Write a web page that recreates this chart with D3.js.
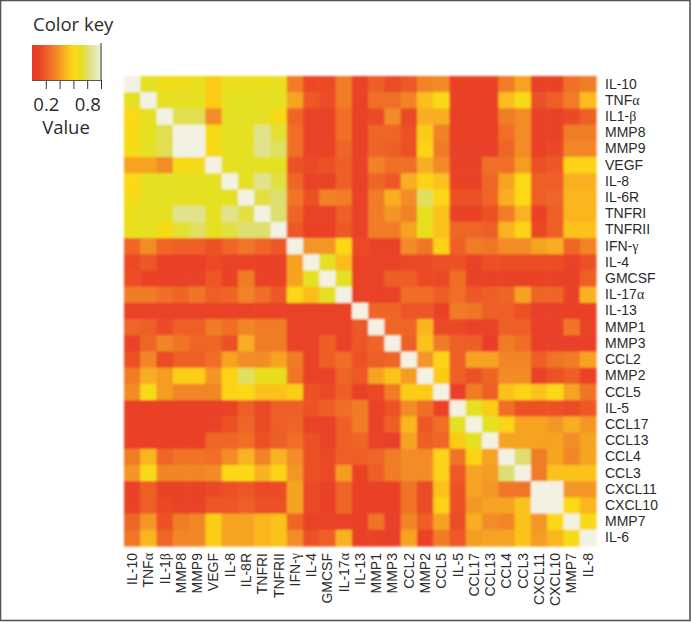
<!DOCTYPE html>
<html><head><meta charset="utf-8">
<script src="https://cdn.jsdelivr.net/npm/d3@7"></script>
<style>
html,body{margin:0;padding:0;background:#fff}
svg{display:block}
text{font-family:"Open Sans","Noto Sans",sans-serif;fill:#2b2b2b}
.domain{display:none}
</style></head><body><svg id="c" width="691" height="622"></svg>
<script>
const rowLabels=["IL-10","TNFα","IL1-β","MMP8","MMP9","VEGF","IL-8","IL-6R","TNFRI","TNFRII","IFN-γ","IL-4","GMCSF","IL-17α","IL-13","MMP1","MMP3","CCL2","MMP2","CCL5","IL-5","CCL17","CCL13","CCL4","CCL3","CXCL11","CXCL10","MMP7","IL-6"];
const colLabels=["IL-10","TNFα","IL-1β","MMP8","MMP9","VEGF","IL-8","IL-8R","TNFRI","TNFRII","IFN-γ","IL-4","GMCSF","IL-17α","IL-13","MMP1","MMP3","CCL2","MMP2","CCL5","IL-5","CCL17","CCL13","CCL4","CCL3","CXCL11","CXCL10","MMP7","IL-8"];
const colorStops=[0,.1,.2,.3,.4,.5,.6,.7,.8,.9,1];
const colorValues=["#e8392a","#ea4328","#ee5f28","#f17c27","#f59c24","#fbbd1e","#fcd815","#e5e020","#dedf70","#e4e6a8","#f3f2e2"];
const keyTicks=[.2,.4,.6,.8,1];
const keyLabels={0.2:"0.2",0.8:"0.8"};
const v00=[1,.7,.65,.65,.68,.55,.68,.68,.68,.68,.3,.12,.12,.3,.1,.2,.13,.18,.32,.35,.08,.08,.08,.3,.42,.1,.1,.25,.3];
const v01=[.7,1,.7,.7,.7,.55,.7,.7,.7,.7,.42,.18,.13,.3,.1,.25,.25,.32,.5,.62,.08,.08,.08,.5,.62,.15,.2,.3,.5];
const v02=[.6,.7,1,.76,.76,.35,.7,.7,.7,.62,.22,.1,.1,.25,.1,.13,.35,.12,.45,.45,.08,.08,.08,.3,.35,.1,.1,.12,.2];
const v03=[.62,.7,.76,1,1,.62,.7,.7,.85,.72,.25,.1,.1,.25,.1,.22,.22,.15,.55,.32,.08,.08,.08,.25,.35,.1,.1,.3,.3];
const v04=[.62,.7,.76,1,1,.62,.7,.7,.85,.78,.25,.1,.1,.22,.1,.22,.2,.15,.58,.3,.07,.07,.07,.22,.35,.1,.12,.33,.33];
const v05=[.42,.42,.35,.62,.62,1,.7,.7,.7,.7,.15,.12,.15,.2,.1,.32,.25,.25,.45,.35,.1,.1,.25,.25,.4,.15,.18,.58,.58];
const v06=[.6,.7,.7,.7,.7,.7,1,.7,.85,.74,.22,.1,.1,.2,.1,.22,.18,.45,.58,.52,.1,.1,.22,.42,.6,.2,.2,.46,.46];
const v07=[.62,.7,.7,.7,.7,.7,.7,1,.74,.8,.28,.15,.32,.3,.1,.3,.45,.35,.78,.6,.15,.15,.22,.45,.6,.2,.22,.48,.48];
const v08=[.68,.7,.7,.85,.85,.7,.85,.74,1,.8,.22,.1,.1,.2,.1,.3,.38,.32,.7,.52,.1,.1,.15,.3,.47,.1,.2,.48,.48];
const v09=[.68,.7,.62,.72,.78,.7,.74,.8,.8,1,.18,.08,.08,.18,.1,.3,.3,.42,.68,.52,.22,.22,.2,.47,.58,.12,.2,.52,.52];
const v10=[.22,.35,.22,.2,.2,.15,.22,.28,.22,.18,1,.38,.38,.6,.12,.1,.1,.35,.28,.58,.2,.3,.28,.35,.35,.42,.45,.22,.32];
const v11=[.12,.17,.08,.08,.08,.12,.1,.1,.08,.08,.42,1,.7,.5,.1,.1,.1,.12,.12,.15,.15,.1,.15,.14,.14,.14,.14,.1,.15];
const v12=[.14,.1,.1,.1,.1,.17,.1,.3,.1,.1,.42,.7,1,.7,.1,.1,.2,.2,.12,.12,.25,.1,.1,.1,.1,.1,.1,.1,.2];
const v13=[.3,.3,.25,.22,.28,.2,.22,.32,.25,.18,.6,.5,.7,1,.1,.1,.1,.25,.25,.2,.25,.18,.2,.22,.42,.22,.22,.1,.47];
const v14=[.09,.09,.1,.1,.09,.09,.09,.1,.09,.09,.1,.1,.09,.09,1,.22,.22,.17,.17,.08,.3,.28,.2,.2,.15,.07,.07,.08,.08];
const v15=[.22,.2,.13,.2,.2,.3,.25,.33,.3,.3,.1,.1,.1,.1,.18,1,.22,.22,.48,.12,.12,.1,.1,.2,.2,.07,.08,.28,.1];
const v16=[.1,.22,.33,.28,.22,.22,.15,.45,.3,.3,.1,.1,.2,.1,.17,.22,1,.2,.52,.3,.2,.2,.05,.3,.25,.08,.07,.07,.07];
const v17=[.15,.33,.13,.2,.2,.25,.42,.35,.35,.42,.3,.1,.2,.25,.15,.2,.22,1,.38,.58,.2,.42,.42,.33,.33,.2,.27,.3,.42];
const v18=[.3,.45,.4,.56,.56,.38,.58,.78,.68,.68,.28,.1,.1,.22,.18,.42,.52,.4,1,.55,.2,.15,.22,.35,.35,.1,.15,.2,.1];
const v19=[.35,.62,.4,.33,.33,.33,.58,.6,.52,.52,.56,.15,.12,.2,.08,.12,.3,.56,.55,1,.08,.3,.2,.52,.58,.52,.6,.42,.28];
const v20=[.08,.08,.08,.08,.08,.08,.1,.2,.12,.2,.2,.15,.2,.25,.3,.1,.15,.35,.25,.1,1,.7,.56,.25,.15,.15,.15,.13,.18];
const v21=[.08,.08,.08,.08,.08,.1,.15,.22,.12,.2,.22,.1,.1,.2,.3,.1,.2,.48,.17,.25,.7,1,.7,.58,.42,.42,.38,.45,.38];
const v22=[.08,.08,.08,.08,.08,.22,.22,.25,.15,.2,.25,.15,.1,.2,.22,.1,.07,.42,.2,.22,.55,.7,1,.42,.42,.42,.42,.35,.42];
const v23=[.3,.48,.22,.27,.27,.25,.35,.47,.32,.47,.35,.15,.12,.2,.2,.22,.3,.35,.35,.58,.27,.58,.42,1,.8,.3,.42,.33,.42];
const v24=[.38,.62,.33,.33,.33,.35,.6,.6,.47,.58,.38,.15,.12,.4,.08,.2,.3,.35,.35,.58,.18,.42,.4,.8,1,.3,.52,.52,.52];
const v25=[.1,.2,.1,.1,.1,.12,.15,.17,.12,.13,.42,.12,.08,.22,.08,.08,.08,.27,.13,.52,.15,.42,.38,.28,.28,1,1,.38,.38];
const v26=[.1,.2,.12,.1,.1,.17,.17,.2,.15,.15,.42,.12,.08,.22,.08,.08,.08,.27,.13,.58,.15,.38,.42,.42,.52,1,1,.6,.48];
const v27=[.22,.38,.15,.3,.33,.56,.42,.42,.48,.52,.22,.1,.1,.1,.08,.27,.07,.33,.2,.42,.13,.45,.35,.33,.52,.38,.6,1,.62];
const v28=[.28,.48,.22,.33,.33,.56,.42,.42,.48,.52,.35,.15,.2,.47,.08,.1,.07,.42,.1,.3,.18,.4,.42,.42,.52,.4,.48,.62,1];
const matrix=[v00,v01,v02,v03,v04,v05,v06,v07,v08,v09,v10,v11,v12,v13,v14,v15,v16,v17,v18,v19,v20,v21,v22,v23,v24,v25,v26,v27,v28];

const svg=d3.select("#c");
const defs=svg.append("defs");
defs.append("filter").attr("id","soft").attr("x","-2%").attr("y","-2%").attr("width","104%").attr("height","104%")
  .append("feGaussianBlur").attr("stdDeviation",0.9);
const color=d3.scaleLinear().domain(colorStops).range(colorValues).clamp(true);
const idx=d3.range(rowLabels.length);
const x=d3.scaleBand().domain(idx).range([124,596]);
const y=d3.scaleBand().domain(idx).range([76,546]);

// frame
svg.append("rect").attr("x",.5).attr("y",.5).attr("width",689.5).attr("height",620).attr("fill","none").attr("stroke","#555").attr("stroke-width",1.6);

// cells
const cells=svg.append("g").attr("filter","url(#soft)");
matrix.forEach((row,r)=>{
  cells.selectAll(null).data(row).enter().append("rect")
    .attr("x",(d,c)=>x(c)).attr("y",y(r)).attr("width",x.bandwidth()+.6).attr("height",y.bandwidth()+.6)
    .attr("fill",d=>color(d));
});

// axes labels
const axisFont="'Liberation Sans',Arial,sans-serif";
const greek=/[αβγ]/;
function fmt(sel,labels){
  sel.selectAll("text").each(function(i){
    const t=d3.select(this).text(null).style("font-family",axisFont).style("font-size","14px");
    const s=labels[i];
    const m=s.search(greek);
    if(m<0){t.text(s);return;}
    t.append("tspan").text(s.slice(0,m));
    t.append("tspan").style("font-family","'Liberation Serif',serif").text(s.slice(m));
  });
}
const right=svg.append("g").attr("transform","translate(596,0)")
  .call(d3.axisRight(y).tickSize(0).tickPadding(9));
fmt(right,rowLabels);
const bottom=svg.append("g").attr("transform","translate(0,546)")
  .call(d3.axisBottom(x).tickSize(0).tickPadding(0));
fmt(bottom,colLabels);
bottom.selectAll("text").attr("text-anchor","end").attr("dy","0.35em")
  .attr("transform","translate(0,7) rotate(-90)").attr("x",0).attr("y",0);

// colour key
const keyX=d3.scaleLinear().domain([0,1]).range([32,101]);
const keyTop=45,keyBottom=80;
const key=svg.append("g");
key.selectAll("rect").data(d3.range(0,1,1/69)).enter().append("rect")
  .attr("x",d=>keyX(d)).attr("y",keyTop).attr("width",1.3).attr("height",keyBottom-keyTop).attr("fill",d=>color(d));
const keyAxis=svg.append("g").attr("transform",`translate(0,${keyBottom})`)
  .call(d3.axisBottom(keyX).tickValues(keyTicks).tickSize(9).tickPadding(9).tickFormat(d=>keyLabels[d]||""));
keyAxis.selectAll("line").attr("stroke","#333");
keyAxis.selectAll("text").style("font-size","18.5px");
svg.append("line").attr("x1",101).attr("x2",101).attr("y1",43).attr("y2",80).attr("stroke","#333");
svg.append("line").attr("x1",32).attr("x2",101).attr("y1",80.5).attr("y2",80.5).attr("stroke","#555");
svg.append("text").attr("x",33).attr("y",31).style("font-size","18.5px").text("Color key");
svg.append("text").attr("x",66).attr("y",134).attr("text-anchor","middle").style("font-size","18.5px").text("Value");
</script></body></html>
